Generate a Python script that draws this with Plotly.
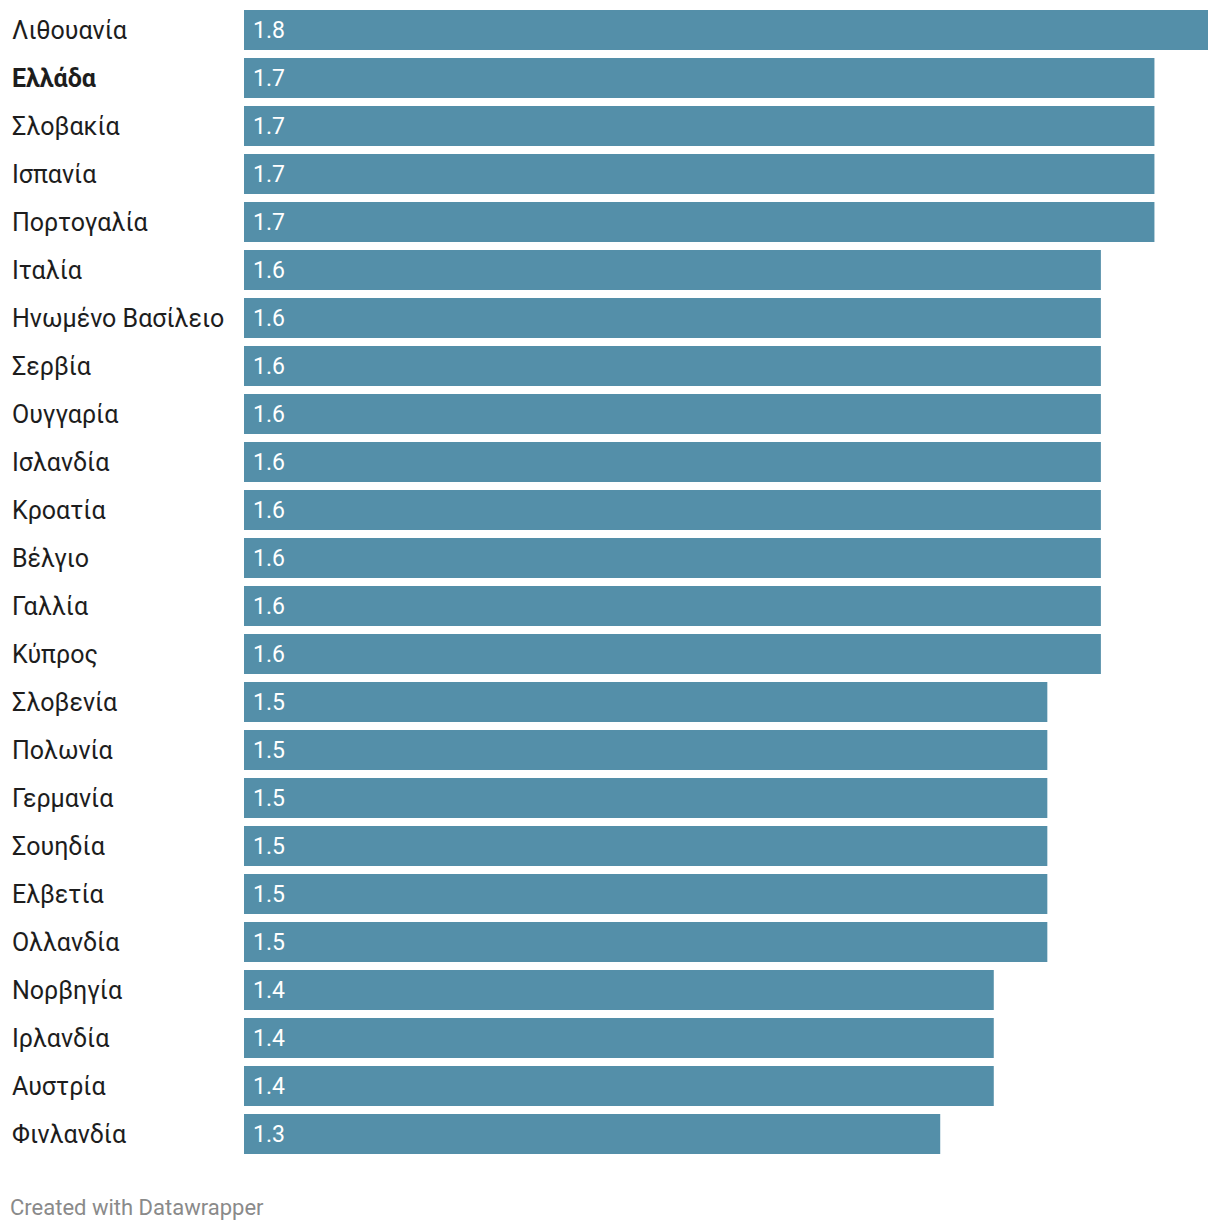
import plotly.graph_objects as go

countries = ["Λιθουανία", "Ελλάδα", "Σλοβακία", "Ισπανία", "Πορτογαλία", "Ιταλία",
             "Ηνωμένο Βασίλειο", "Σερβία", "Ουγγαρία", "Ισλανδία", "Κροατία", "Βέλγιο",
             "Γαλλία", "Κύπρος", "Σλοβενία", "Πολωνία", "Γερμανία", "Σουηδία", "Ελβετία",
             "Ολλανδία", "Νορβηγία", "Ιρλανδία", "Αυστρία", "Φινλανδία"]
values = [1.8, 1.7, 1.7, 1.7, 1.7, 1.6, 1.6, 1.6, 1.6, 1.6, 1.6, 1.6, 1.6, 1.6,
          1.5, 1.5, 1.5, 1.5, 1.5, 1.5, 1.4, 1.4, 1.4, 1.3]
highlight = "Ελλάδα"

# page body has an 8px default margin; figure is sized/offset to fit the window
OFF = 8
W, H = 1220 - 2 * OFF, 1230 - 2 * OFF
ML = 244 - OFF
PW = 1208 - 244
PH = 1158 - 6
MR = W - ML - PW
top_fig = 6 - OFF
MT = 0
PH = PH + top_fig
MB = H - MT - PH

BAR_COLOR = "#548fa9"
FONT = "Roboto"
LABEL_SIZE = 25
VALUE_SIZE = 23
FOOT_SIZE = 22

fig = go.Figure(go.Bar(
    x=values, y=countries, orientation="h",
    marker=dict(color=BAR_COLOR, line=dict(width=0)),
    hoverinfo="skip",
))

annotations = []
for c, v in zip(countries, values):
    label = f"<b>{c}</b>" if c == highlight else c
    annotations.append(dict(
        x=(10 - 244) / PW, xref="paper", y=c, yref="y",
        text=label, showarrow=False, xanchor="left", yanchor="middle",
        font=dict(family=FONT, size=LABEL_SIZE, color="#1d1d1d"),
    ))
    annotations.append(dict(
        x=0, xref="x", y=c, yref="y", xshift=7,
        text=f"{v:.1f}", showarrow=False, xanchor="left", yanchor="middle",
        font=dict(family=FONT, size=VALUE_SIZE, color="#ffffff"),
    ))

foot_y_fig = 1207 - OFF
annotations.append(dict(
    x=(8 - 244) / PW, xref="paper", y=-(foot_y_fig - (MT + PH)) / PH, yref="paper",
    text="Created with Datawrapper", showarrow=False, xanchor="left", yanchor="middle",
    font=dict(family=FONT, size=FOOT_SIZE, color="#8a8a8a"),
))

n = len(countries)
pitch = 48
y_top = -0.5 + (-top_fig) / pitch
y_bot = n - 0.5

fig.update_layout(
    width=W, height=H,
    margin=dict(l=ML, r=MR, t=MT, b=MB, pad=0),
    plot_bgcolor="white", paper_bgcolor="white",
    bargap=8 / 48,
    xaxis=dict(range=[0, 1.8], visible=False, fixedrange=True),
    yaxis=dict(range=[y_bot, y_top], showticklabels=False, showgrid=False,
               zeroline=False, showline=False, ticks="", fixedrange=True),
    annotations=annotations,
    showlegend=False,
)

fig.write_html("out.html", config=dict(displayModeBar=False))
